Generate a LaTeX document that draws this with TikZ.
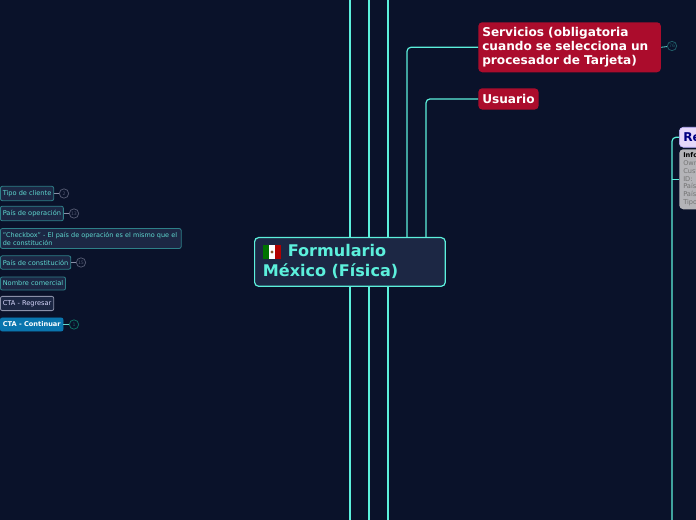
\documentclass[tikz,border=0pt]{standalone}
\usepackage{fontspec}
\setmainfont{DejaVu Sans}
\usetikzlibrary{positioning}
\definecolor{pagebg}{HTML}{0A122A}
\definecolor{trunkline}{HTML}{5CF0DC}
\definecolor{rootfill}{HTML}{1C2744}
\definecolor{crimson}{HTML}{AB0C2C}
\definecolor{tealline}{HTML}{2E7F88}
\definecolor{tealtext}{HTML}{5FD8D0}
\definecolor{greyline}{HTML}{8A90A8}
\definecolor{greymark}{HTML}{50566E}
\definecolor{tealmark}{HTML}{1F5A66}
\definecolor{greenmark}{HTML}{0F6E62}
\definecolor{ctablue}{HTML}{0A75AE}
\definecolor{lilac}{HTML}{E6D8FA}
\definecolor{infogrey}{HTML}{B4B4B8}
\tikzset{
  root box/.style={draw=trunkline, fill=rootfill, line width=0.9pt, rounded corners=3pt,
    anchor=north west, inner sep=0pt, align=left, font=\bfseries\fontsize{12.05}{15}\selectfont,
    text=trunkline},
  topic box/.style={fill=crimson, rounded corners=3pt, anchor=north west, text=white,
    align=left, font=\bfseries\fontsize{9.1}{10.5}\selectfont, inner sep=0pt},
  leaf box/.style={draw=tealline, fill=rootfill, line width=0.6pt, rounded corners=1.5pt, anchor=west,
    text=tealtext, font=\fontsize{4.95}{6}\selectfont, align=left, inner xsep=1.8pt, inner ysep=3pt},
  count mark/.style={draw=#1, circle, line width=0.6pt, minimum size=7pt, inner sep=0pt,
    text=#1, font=\fontsize{3.5}{4}\selectfont},
  count mark/.default=greymark,
  trunk/.style={draw=trunkline, line width=0.9pt},
  stub/.style={draw=#1, line width=0.6pt}
}
\begin{document}
\begin{tikzpicture}[x=0.75pt,y=-0.75pt]
  \path[use as bounding box, fill=pagebg] (0,0) rectangle (696,520);
  \clip (0,0) rectangle (696,520);

  % trunk lines behind the root
  \coordinate (top a) at (350,0);
  \coordinate (top b) at (369,0);
  \coordinate (top c) at (388,0);
  \coordinate (bottom a) at (350,520);
  \coordinate (bottom b) at (369,520);
  \coordinate (bottom c) at (388,520);
  \draw[trunk] (top a) -- (bottom a);
  \draw[trunk] (top b) -- (bottom b);
  \draw[trunk] (top c) -- (bottom c);

  \node[root box, minimum width=143pt, minimum height=36.5pt, text width=130.5pt, inner xsep=6pt] (root) at (254,237)
    {\hspace*{18.7pt}Formulario\\México (Física)};
  \fill[green!45!black] (263,245) rectangle (269,259);
  \fill[white] (269,245) rectangle (275,259);
  \fill[red!70!black] (275,245) rectangle (281,259);
  \fill[brown!70!black] (272,252) circle (1.7);

  % topics on the right
  \node[topic box, minimum width=137pt, minimum height=37.5pt, text width=131pt, inner xsep=3pt] (servicios) at (478,22)
    {Servicios (obligatoria\\cuando se selecciona un\\procesador de Tarjeta)};
  \node[topic box, minimum width=45pt, minimum height=16pt, inner xsep=3pt] (usuario) at (478,88) {Usuario};
  \draw[trunk, rounded corners=3pt] (407,237) |- (servicios.west);
  \draw[trunk, rounded corners=3pt] (426,237) |- (usuario.west);
  \node[count mark=tealmark] (servicios count) at (672,46) {76};
  \draw[stub=tealtext] (servicios.east) -- (servicios count);

  % cut off at the right edge
  \node[fill=lilac, draw=lilac!80!blue, rounded corners=3pt, anchor=north west, minimum height=15pt,
    text=blue!50!black, font=\bfseries\fontsize{9.1}{10.5}\selectfont, align=left, inner xsep=3pt, text width=40pt] (resumen) at (679,127) {Re};
  \node[fill=infogrey, rounded corners=3pt, anchor=north west, minimum height=45pt, align=left,
    text=black!55, font=\fontsize{4.95}{5.85}\selectfont, inner xsep=3pt, inner ysep=2pt, text width=40pt] (info) at (679,149)
    {\textcolor{black}{\textbf{Info}}\\Own\\Cust\\ID:\\País\\País\\Tipo};
  \coordinate (side bottom) at (672,520);
  \draw[trunk, rounded corners=3pt] (side bottom) |- (resumen.west);
  \draw[trunk] (info.west) -- (info.west -| side bottom);

  % leaves on the left
  \node[leaf box] (tipo) at (0,193.5) {Tipo de cliente};
  \node[leaf box] (operacion) at (0,213.5) {País de operación};
  \node[leaf box, text width=132pt, inner ysep=2.5pt, font=\fontsize{4.85}{6}\selectfont] (checkbox) at (0,238.5)
    {"Checkbox" - El país de operación es el mismo que el\\de constitución};
  \node[leaf box] (constitucion) at (0,262.5) {País de constitución};
  \node[leaf box] (comercial) at (0,283.5) {Nombre comercial};
  \node[leaf box, draw=greyline, text=white!85!blue] (regresar) at (0,303.5) {CTA - Regresar};
  \node[leaf box, draw=ctablue, fill=ctablue, text=white, font=\bfseries\fontsize{4.95}{6}\selectfont] (continuar) at (0,324.5) {CTA - Continuar};

  \node[count mark] (tipo count) at (64,193.5) {2};
  \node[count mark] (operacion count) at (74,213.5) {13};
  \node[count mark] (constitucion count) at (81,262.5) {15};
  \node[count mark=greenmark] (continuar count) at (74,324.5) {1};
  \draw[stub=greyline] (tipo) -- (tipo count);
  \draw[stub=greyline] (operacion) -- (operacion count);
  \draw[stub=greyline] (constitucion) -- (constitucion count);
  \draw[stub=tealtext] (continuar) -- (continuar count);
\end{tikzpicture}
\end{document}
